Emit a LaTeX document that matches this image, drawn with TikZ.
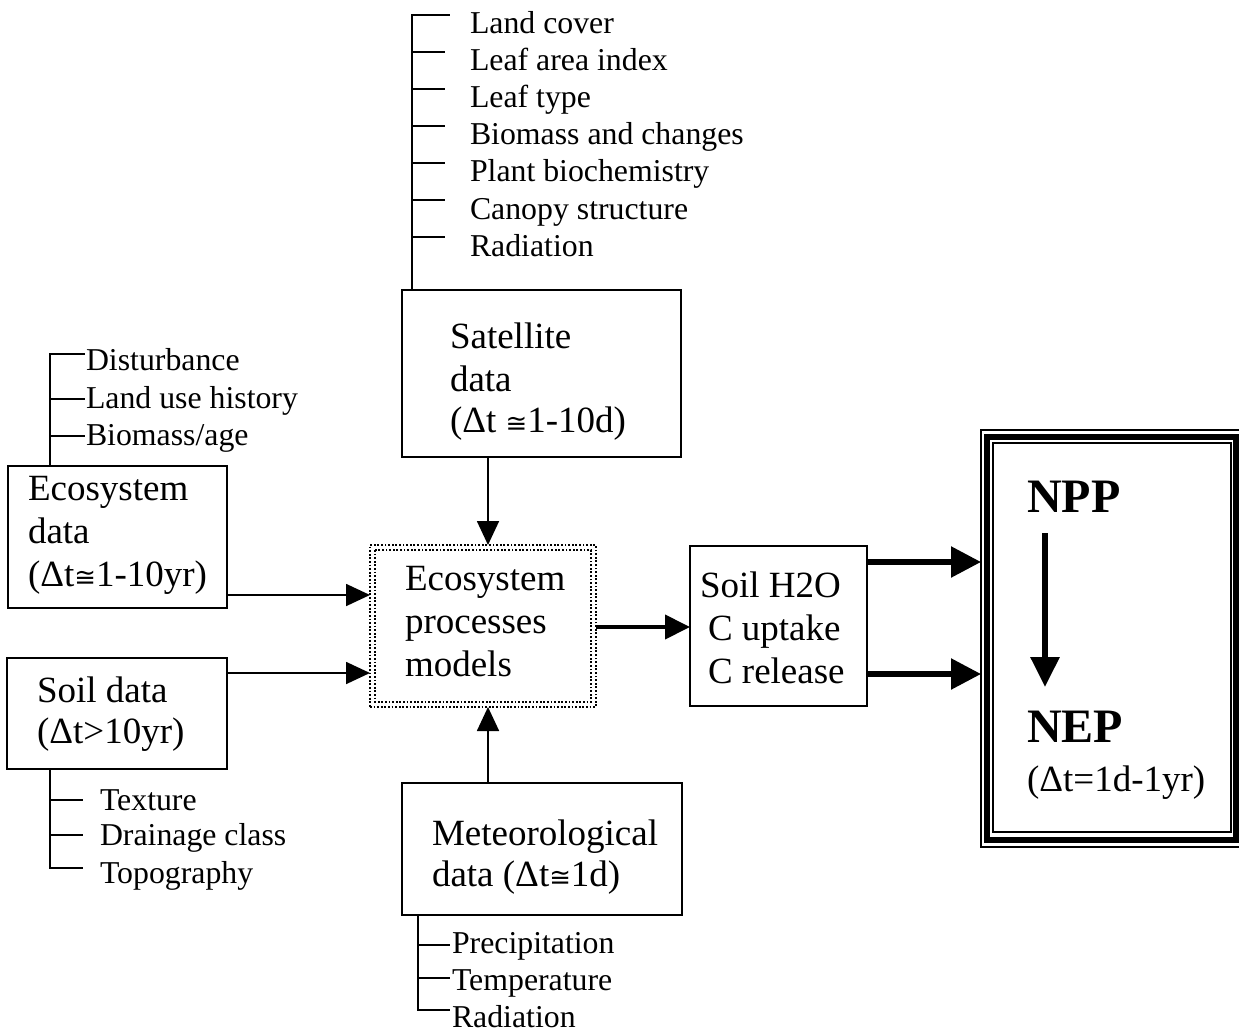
\documentclass[tikz,border=0pt]{standalone}
\usepackage{fontspec}
\setmainfont{Liberation Serif}
\newfontfamily\symf[Scale=0.7]{DejaVu Sans}
\usetikzlibrary{arrows.meta}
\newcommand{\congsym}{{\symf ≅}}
\tikzset{
  box/.style={draw, line width=1.8pt, inner sep=0pt, outer sep=0pt},
  txt/.style={anchor=base west, inner sep=0pt, outer sep=0pt, font=\fontsize{37}{43}\selectfont},
  ltxt/.style={anchor=base west, inner sep=0pt, outer sep=0pt, font=\fontsize{31.8}{37}\selectfont},
  tree/.style={line width=1.8pt},
  thinarrow/.style={line width=1.8pt, -{Triangle[length=24pt,width=22pt]}},
  midarrow/.style={line width=4pt, -{Triangle[length=25pt,width=24pt]}},
  bigarrow/.style={line width=5.5pt, -{Triangle[length=30pt,width=30pt]}},
  dotbox/.style={line width=1.8pt, dash pattern=on 1.8pt off 1.8pt},
}
\begin{document}
\begin{tikzpicture}[x=1pt,y=-1pt]
\useasboundingbox (0,0) rectangle (1239,1035);

% ---------- boxes ----------
\node[box, minimum width=279pt, minimum height=167pt] (sat) at (541.5,373.5) {};
\node[box, minimum width=219pt, minimum height=142pt] (eco) at (117.5,537) {};
\node[box, minimum width=220pt, minimum height=111pt] (soil) at (117,713.5) {};
\node[box, minimum width=280pt, minimum height=132pt] (met) at (542,849) {};
\node[box, dotbox, minimum width=226pt, minimum height=162pt] (model) at (483,626) {};
\draw[dotbox] ([shift={(5,5)}]model.north west) rectangle ([shift={(-5,-5)}]model.south east);
\node[box, minimum width=177pt, minimum height=160pt] (h2o) at (778.5,626) {};

% triple-line output box
\node[draw, line width=2pt, inner sep=0pt, outer sep=0pt, minimum width=262pt, minimum height=417pt] (outer) at (1112,638.5) {};
\node[draw, line width=6pt, inner sep=0pt, outer sep=0pt, minimum width=249pt, minimum height=403pt] (mid) at (1111.5,638.5) {};
\node[draw, line width=2pt, inner sep=0pt, outer sep=0pt, minimum width=237.5pt, minimum height=389pt] (inner) at (1111.75,637.5) {};

% ---------- box texts ----------
\node[txt] (sat1) at (450,348) {Satellite};
\node[txt] (sat2) at (450,391) {data};
\node[txt] (sat3) at (450,432) {(Δt \congsym1-10d)};

\node[txt] (eco1) at (28,500) {Ecosystem};
\node[txt] (eco2) at (28,543) {data};
\node[txt] (eco3) at (28,586) {(Δt\congsym1-10yr)};

\node[txt] (soil1) at (37,702) {Soil data};
\node[txt] (soil2) at (37,743) {(Δt>10yr)};

\node[txt] (met1) at (432,845) {Meteorological};
\node[txt] (met2) at (432,886) {data (Δt\congsym1d)};

\node[txt] (mod1) at (405,590) {Ecosystem};
\node[txt] (mod2) at (405,633) {processes};
\node[txt] (mod3) at (405,676) {models};

\node[txt] (h1) at (700,597) {Soil H2O};
\node[txt] (h2) at (708,640) {C uptake};
\node[txt] (h3) at (708,683) {C release};

\node[anchor=base west, inner sep=0pt, font=\fontsize{48}{52}\selectfont\bfseries] (npp) at (1027,512) {NPP};
\node[anchor=base west, inner sep=0pt, font=\fontsize{48}{52}\selectfont\bfseries] (nep) at (1027,742) {NEP};
\node[txt] (dtn) at (1027,791) {(Δt=1d-1yr)};

% ---------- satellite list ----------
\draw[tree] (sat.north -| 412,0) -- (412,15) -- (450,15);
\foreach \yy in {52,89,126,163,200,237} { \draw[tree] (412,\yy) -- (445,\yy); }
\node[ltxt] (sl1) at (470,34) {Land cover};
\node[ltxt] (sl2) at (470,71) {Leaf area index};
\node[ltxt] (sl3) at (470,108) {Leaf type};
\node[ltxt] (sl4) at (470,145) {Biomass and changes};
\node[ltxt] (sl5) at (470,182) {Plant biochemistry};
\node[ltxt] (sl6) at (470,219) {Canopy structure};
\node[ltxt] (sl7) at (470,256) {Radiation};

% ---------- ecosystem list ----------
\draw[tree] (eco.north -| 50,0) -- (50,354) -- (85,354);
\draw[tree] (50,399) -- (85,399);
\draw[tree] (50,436) -- (85,436);
\node[ltxt] (el1) at (86,370) {Disturbance};
\node[ltxt] (el2) at (86,408) {Land use history};
\node[ltxt] (el3) at (86,445) {Biomass/age};

% ---------- soil list ----------
\draw[tree] (soil.south -| 50,0) -- (50,868) -- (83,868);
\draw[tree] (50,800) -- (83,800);
\draw[tree] (50,835) -- (83,835);
\node[ltxt] (ol1) at (100,810) {Texture};
\node[ltxt] (ol2) at (100,845) {Drainage class};
\node[ltxt] (ol3) at (100,883) {Topography};

% ---------- meteorological list ----------
\draw[tree] (met.south -| 418,0) -- (418,1010) -- (450,1010);
\draw[tree] (418,945) -- (450,945);
\draw[tree] (418,978) -- (450,978);
\node[ltxt] (ml1) at (452,953) {Precipitation};
\node[ltxt] (ml2) at (452,990) {Temperature};
\node[ltxt] (ml3) at (452,1027) {Radiation};

% ---------- connectors ----------
\draw[thinarrow] (sat.south -| 488,0) -- (model.north -| 488,0);
\draw[thinarrow] (met.north -| 488,0) -- (model.south -| 488,0);
\draw[thinarrow] (eco.east |- 0,595) -- (model.west |- 0,595);
\draw[thinarrow] (soil.east |- 0,673) -- (model.west |- 0,673);
\draw[midarrow] (model.east |- 0,627) -- (h2o.west |- 0,627);
\draw[bigarrow] (h2o.east |- 0,562) -- (outer.west |- 0,562);
\draw[bigarrow] (h2o.east |- 0,674) -- (outer.west |- 0,674);
\coordinate (a1) at (1045,533);
\coordinate (a2) at (1045,687);
\draw[line width=6pt, -{Triangle[length=30pt,width=28pt]}] (a1) -- (a2);
\end{tikzpicture}
\end{document}
